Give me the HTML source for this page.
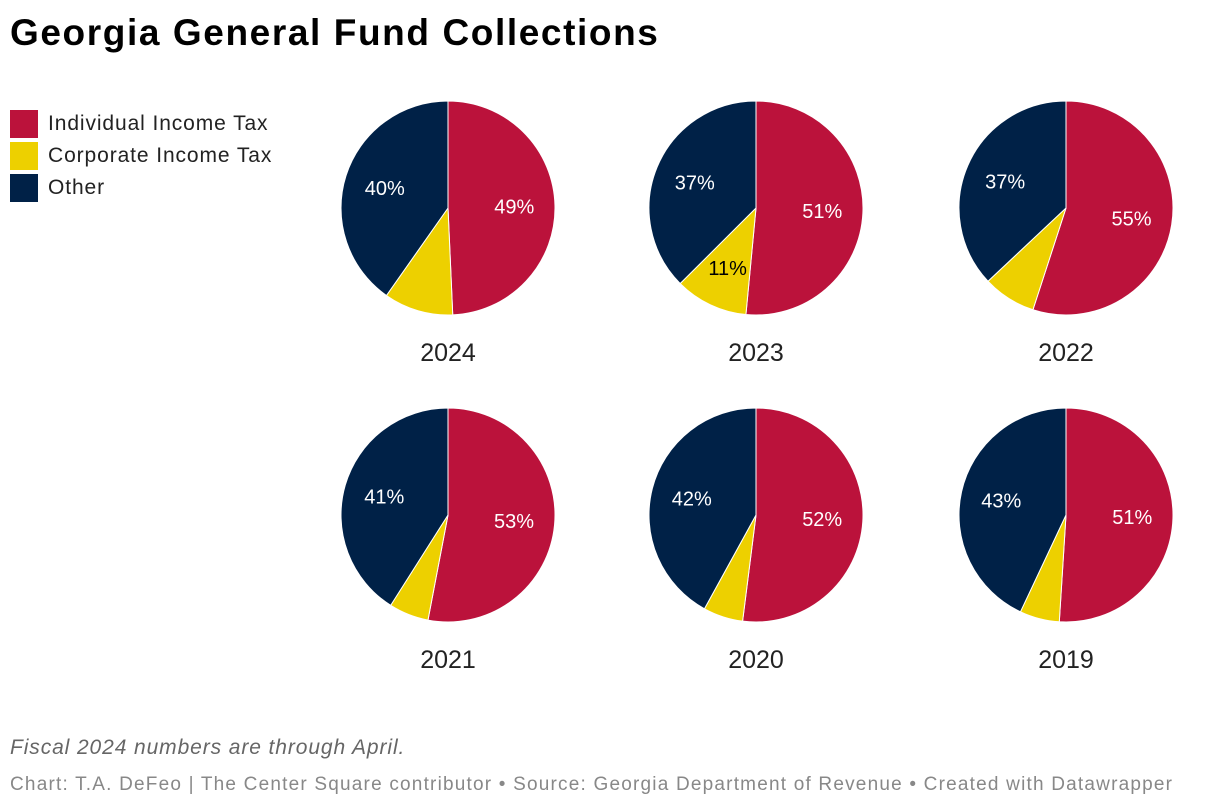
<!DOCTYPE html>
<html><head><meta charset="utf-8"><style>
body{margin:0;width:1220px;height:810px;background:#fff;font-family:"Liberation Sans",sans-serif;position:relative;overflow:hidden}
.t{position:absolute;left:10px;top:12px;font-size:37px;font-weight:bold;color:#000;letter-spacing:1.6px}
.lg{position:absolute;left:10px;font-size:21px;color:#222;display:flex;align-items:center;letter-spacing:0.9px}
.lg span{display:inline-block;width:28px;height:28px;margin-right:10px}
.note{position:absolute;left:10px;top:736px;font-size:21px;font-style:italic;color:#666;letter-spacing:0.9px}
.src{position:absolute;left:10px;top:774px;font-size:19px;color:#888;letter-spacing:1.2px}
</style></head><body>
<div class="t">Georgia General Fund Collections</div>
<div class="lg" style="top:110px"><span style="background:#bb123b"></span>Individual Income Tax</div>
<div class="lg" style="top:142px"><span style="background:#edd000"></span>Corporate Income Tax</div>
<div class="lg" style="top:174px"><span style="background:#002147"></span>Other</div>
<svg id="c" width="1220" height="810" style="position:absolute;left:0;top:0"></svg>
<div class="note">Fiscal 2024 numbers are through April.</div>
<div class="src">Chart: T.A. DeFeo | The Center Square contributor • Source: Georgia Department of Revenue • Created with Datawrapper</div>
<script>
const years=["2024","2023","2022","2021","2020","2019"];
const individual=[49,51.4,55,53,52,51];
const corporate=[10.4,11,8,6,6,6];
const other=[40,37.4,37,41,42,43];
const colors=["#bb123b","#edd000","#002147"];
const textColors=["#fff","#000","#fff"];
const svg=document.getElementById('c');
const NS="http://www.w3.org/2000/svg";
const cxs=[448,756,1066],cys=[208,515],R=107;
function pt(cx,cy,r,f){const a=f*2*Math.PI;return [cx+r*Math.sin(a),cy-r*Math.cos(a)];}
years.forEach((y,i)=>{
  const cx=cxs[i%3],cy=cys[Math.floor(i/3)];
  const vals=[individual[i],corporate[i],other[i]];
  const tot=vals.reduce((a,b)=>a+b,0);
  let acc=0;
  vals.forEach((v,k)=>{
    const f0=acc/tot,f1=(acc+v)/tot;acc+=v;
    const p0=pt(cx,cy,R,f0),p1=pt(cx,cy,R,f1);
    const p=document.createElementNS(NS,'path');
    p.setAttribute('d',`M${cx},${cy}L${p0[0]},${p0[1]}A${R},${R} 0 ${f1-f0>0.5?1:0} 1 ${p1[0]},${p1[1]}Z`);
    p.setAttribute('fill',colors[k]);p.setAttribute('stroke','#fff');p.setAttribute('stroke-width','1');
    
    
    svg.appendChild(p);
    if(v>=11){
      const m=pt(cx,cy,R*0.62,(f0+f1)/2);
      const t=document.createElementNS(NS,'text');
      t.setAttribute('x',m[0]);t.setAttribute('y',m[1]+7);t.setAttribute('text-anchor','middle');
      t.setAttribute('font-size','20');t.setAttribute('fill',textColors[k]);
      t.textContent=Math.round(v)+'%';
      
      
      svg.appendChild(t);
    }
  });
  const l=document.createElementNS(NS,'text');
  l.setAttribute('x',cx);l.setAttribute('y',cy+153);l.setAttribute('text-anchor','middle');
  l.setAttribute('font-size','25');l.setAttribute('fill','#222');l.textContent=y;
  
  
  svg.appendChild(l);
});
</script>
</body></html>
